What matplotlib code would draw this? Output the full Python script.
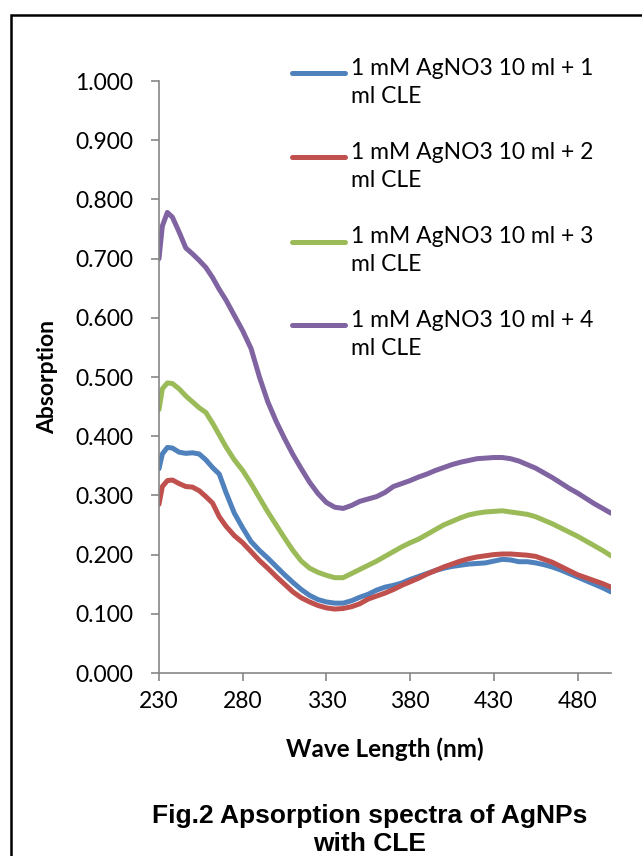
import matplotlib
matplotlib.use('Agg')
import matplotlib.pyplot as plt
from matplotlib.patches import Rectangle
from matplotlib.lines import Line2D

# wavelength grid (nm) and absorption values
wavelength = [230, 232, 235, 238, 242, 246, 250, 254, 258, 262, 266, 270, 275, 280,
              285, 290, 295, 300, 305, 310, 315, 320, 325, 330, 335, 340, 345, 350,
              355, 360, 365, 370, 375, 380, 385, 390, 395, 400, 405, 410, 415, 420,
              425, 430, 435, 440, 445, 450, 455, 460, 465, 470, 475, 480, 485, 490,
              495, 500]

cle_1ml = [0.345, 0.370, 0.381, 0.380, 0.373, 0.371, 0.372, 0.370, 0.360, 0.347, 0.336,
           0.305, 0.270, 0.245, 0.222, 0.207, 0.194, 0.180, 0.166, 0.153, 0.141, 0.131,
           0.124, 0.120, 0.118, 0.118, 0.122, 0.128, 0.133, 0.140, 0.145, 0.148, 0.152,
           0.158, 0.163, 0.168, 0.173, 0.177, 0.180, 0.182, 0.184, 0.185, 0.186, 0.189,
           0.192, 0.191, 0.188, 0.188, 0.186, 0.183, 0.179, 0.174, 0.168, 0.162, 0.156,
           0.150, 0.144, 0.137]

cle_2ml = [0.285, 0.315, 0.325, 0.326, 0.320, 0.315, 0.314, 0.308, 0.298, 0.287, 0.264,
           0.248, 0.232, 0.220, 0.205, 0.190, 0.177, 0.163, 0.150, 0.137, 0.127, 0.120,
           0.114, 0.110, 0.108, 0.109, 0.112, 0.117, 0.125, 0.130, 0.135, 0.141, 0.148,
           0.154, 0.160, 0.167, 0.173, 0.179, 0.184, 0.189, 0.193, 0.196, 0.198, 0.200,
           0.201, 0.201, 0.200, 0.199, 0.197, 0.192, 0.187, 0.180, 0.173, 0.166, 0.161,
           0.156, 0.151, 0.145]

cle_3ml = [0.445, 0.480, 0.490, 0.489, 0.480, 0.468, 0.458, 0.448, 0.440, 0.422, 0.402,
           0.382, 0.360, 0.342, 0.320, 0.296, 0.272, 0.250, 0.228, 0.207, 0.189, 0.177,
           0.170, 0.165, 0.161, 0.161, 0.168, 0.175, 0.182, 0.189, 0.197, 0.205, 0.213,
           0.220, 0.226, 0.234, 0.242, 0.250, 0.256, 0.262, 0.267, 0.270, 0.272, 0.273,
           0.274, 0.272, 0.270, 0.268, 0.264, 0.258, 0.252, 0.245, 0.238, 0.231, 0.223,
           0.215, 0.207, 0.198]

cle_4ml = [0.700, 0.755, 0.778, 0.770, 0.745, 0.718, 0.708, 0.697, 0.685, 0.668, 0.648,
           0.630, 0.604, 0.578, 0.548, 0.500, 0.458, 0.425, 0.396, 0.369, 0.345, 0.322,
           0.303, 0.288, 0.280, 0.278, 0.283, 0.290, 0.294, 0.298, 0.305, 0.315, 0.320,
           0.325, 0.331, 0.336, 0.342, 0.347, 0.352, 0.356, 0.359, 0.362, 0.363, 0.364,
           0.364, 0.362, 0.358, 0.352, 0.346, 0.338, 0.330, 0.321, 0.312, 0.304, 0.295,
           0.286, 0.278, 0.270]

labels = ['1 mM AgNO3 10 ml + 1\nml CLE', '1 mM AgNO3 10 ml + 2\nml CLE',
          '1 mM AgNO3 10 ml + 3\nml CLE', '1 mM AgNO3 10 ml + 4\nml CLE']
colors = ['#4F81BD', '#C0504D', '#9BBB59', '#8064A2']
series = [cle_1ml, cle_2ml, cle_3ml, cle_4ml]

x_ticks = [230, 280, 330, 380, 430, 480]
y_ticks = [0.0, 0.1, 0.2, 0.3, 0.4, 0.5, 0.6, 0.7, 0.8, 0.9, 1.0]

W, H = 642, 856
fig = plt.figure(figsize=(W / 100, H / 100), dpi=100)
ax = fig.add_axes([159 / W, 1 - 673 / H, (611 - 159) / W, (673 - 81) / H])

for vals, c in zip(series, colors):
    ax.plot(wavelength, vals, color=c, linewidth=3.6, solid_capstyle='round')

ax.set_xlim(230, 500)
ax.set_ylim(0, 1.0)
ax.set_xticks(x_ticks)
ax.set_yticks(y_ticks)
ax.set_yticklabels([f'{v:.3f}' for v in y_ticks])

for side in ['top', 'right']:
    ax.spines[side].set_visible(False)
for side in ['left', 'bottom']:
    ax.spines[side].set_color('#868686')
    ax.spines[side].set_linewidth(1.2)

tick_font = 'Lato'
ax.tick_params(axis='y', direction='out', length=5.5, width=1.2, color='#868686', pad=13)
ax.tick_params(axis='x', direction='out', length=6, width=1.2, color='#868686', pad=7)
for lab in ax.get_xticklabels() + ax.get_yticklabels():
    lab.set_fontfamily(tick_font)
    lab.set_fontsize(16.5)

ax.set_ylabel('Absorption', fontfamily=tick_font, fontweight='bold', fontsize=16.5, labelpad=12)
ax.set_xlabel('Wave Length (nm)', fontfamily=tick_font, fontweight='bold', fontsize=17.5, labelpad=18)

# legend drawn by hand so the line sits beside the first text line
leg_y = [73, 157, 241.5, 325]
for lab, c, yy in zip(labels, colors, leg_y):
    fig.add_artist(Line2D([292 / W, 345 / W], [1 - yy / H, 1 - yy / H], color=c,
                          linewidth=3.6, solid_capstyle='round'))
    fig.text(351 / W, 1 - (yy - 15) / H, lab, ha='left', va='top', fontfamily=tick_font,
             fontsize=16.5, linespacing=1.4)

fig.text(370 / W, 1 - 830 / H, 'Fig.2 Apsorption spectra of AgNPs\nwith CLE', ha='center',
         va='center', fontfamily='Liberation Sans', fontweight='bold', fontsize=19,
         linespacing=1.18)

# frame around the figure (runs off the right and bottom edges)
fig.add_artist(Rectangle((11 / W, -0.1), 1.2, 1 - 15 / H + 0.1, transform=fig.transFigure,
                         fill=False, edgecolor='black', linewidth=1.8, clip_on=False))

fig.savefig('out.png', dpi=100)
